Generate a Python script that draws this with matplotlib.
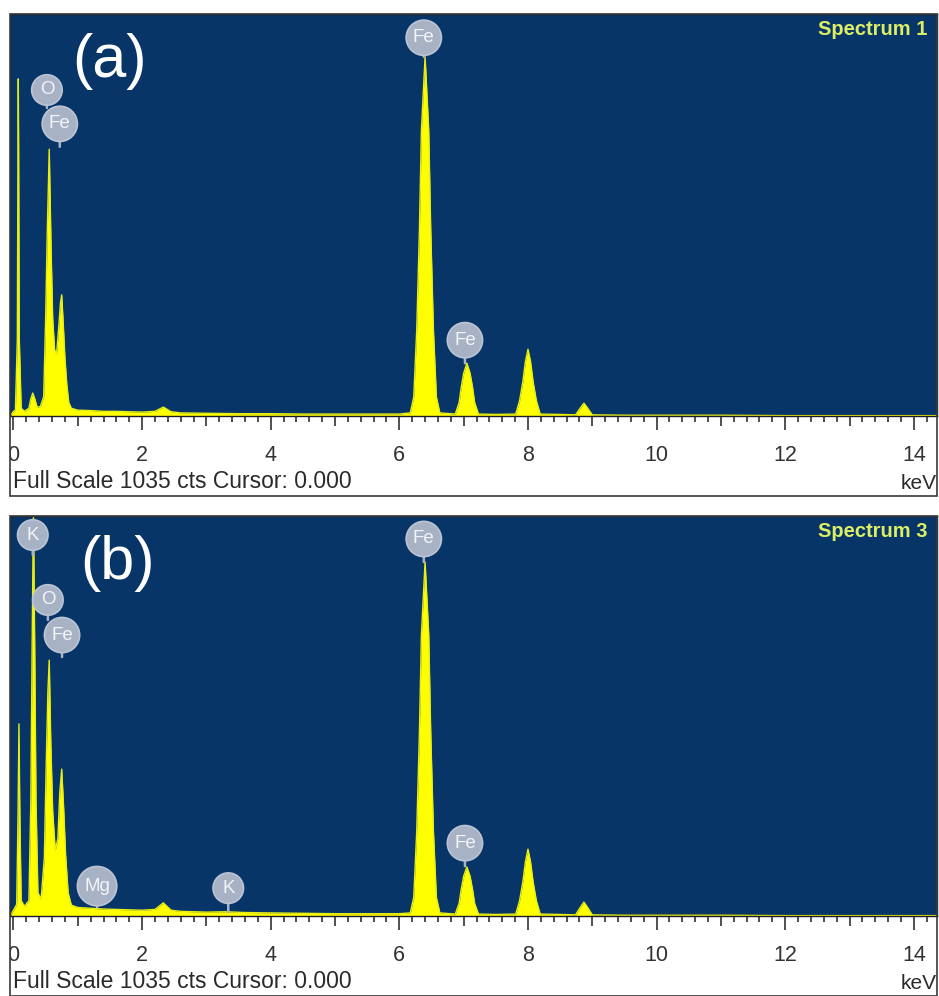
import numpy as np
import matplotlib
matplotlib.use('Agg')
import matplotlib.pyplot as plt
from matplotlib.patches import Rectangle

plt.rcParams['font.family'] = ['Liberation Sans', 'DejaVu Sans']

# spectrum (a): energy in keV, counts
energy_a = [-0.05, 0.0, 0.03, 0.06, 0.07, 0.075, 0.08, 0.09, 0.12, 0.17,
            0.24, 0.27, 0.30, 0.33, 0.37, 0.42, 0.47, 0.50, 0.525, 0.556,
            0.585, 0.61, 0.64, 0.67, 0.70, 0.73, 0.75, 0.77, 0.80, 0.83,
            0.86, 0.90, 1.0, 1.2, 1.4, 1.6, 1.8, 2.0, 2.2, 2.33,
            2.45, 2.6, 3.0, 3.5, 4.0, 4.5, 5.0, 5.5, 6.0, 6.17,
            6.224, 6.27, 6.312, 6.343, 6.40, 6.457, 6.488, 6.53, 6.576, 6.63,
            6.87, 6.93, 6.96, 7.0, 7.05, 7.10, 7.14, 7.17, 7.23, 7.5,
            7.81, 7.87, 7.92, 7.96, 8.0, 8.04, 8.08, 8.13, 8.19, 8.5,
            8.74, 8.82, 8.87, 8.92, 9.0, 9.5, 10.0, 11.0, 12.0, 13.0, 14.4]
counts_a = [0, 12, 15, 200, 700, 868, 700, 200, 20, 12,
            20, 45, 59, 45, 22, 25, 50, 250, 470, 687,
            430, 250, 170, 160, 220, 290, 312, 250, 150, 80,
            35, 20, 15, 14, 12, 12, 11, 10, 12, 23,
            11, 8, 7, 6, 6, 5, 5, 5, 5, 8,
            49, 221, 479, 736, 925, 736, 479, 221, 49, 8,
            5, 35, 72, 110, 136, 110, 72, 35, 5, 4,
            5, 40, 88, 140, 172, 140, 88, 40, 5, 4,
            3, 22, 33, 22, 3, 2, 2, 2, 1, 1, 1]

# spectrum (b)
energy_b = [-0.05, 0.0, 0.05, 0.07, 0.085, 0.10, 0.12, 0.17, 0.24, 0.27,
            0.29, 0.31, 0.33, 0.35, 0.38, 0.43, 0.48, 0.51, 0.535, 0.556,
            0.58, 0.61, 0.65, 0.69, 0.72, 0.75, 0.78, 0.81, 0.85, 0.90,
            1.0, 1.2, 1.4, 1.6, 1.8, 2.0, 2.2, 2.33, 2.45, 2.6,
            3.0, 3.3, 3.6, 4.0, 4.5, 5.0, 5.5, 6.0, 6.17, 6.224,
            6.27, 6.312, 6.343, 6.40, 6.457, 6.488, 6.53, 6.576, 6.63, 6.87,
            6.93, 6.96, 7.0, 7.05, 7.10, 7.14, 7.17, 7.23, 7.5, 7.81,
            7.87, 7.92, 7.96, 8.0, 8.04, 8.08, 8.13, 8.19, 8.5, 8.74,
            8.82, 8.87, 8.92, 9.0, 9.5, 10.0, 11.0, 12.0, 13.0, 14.4]
counts_b = [0, 15, 30, 250, 497, 250, 40, 25, 40, 300,
            700, 1050, 700, 300, 60, 44, 150, 400, 580, 662,
            450, 270, 170, 200, 320, 380, 280, 160, 60, 28,
            22, 20, 18, 17, 16, 15, 17, 34, 15, 12,
            10, 11, 9, 8, 7, 6, 6, 6, 8, 48,
            219, 474, 728, 916, 728, 474, 219, 48, 8, 5,
            33, 67, 103, 127, 103, 67, 33, 5, 4, 5,
            40, 88, 140, 173, 140, 88, 40, 5, 4, 3,
            24, 36, 24, 3, 2, 2, 2, 1, 1, 1]

# element markers: name, energy (keV), counts where the stem ends
names_a = ['O', 'Fe', 'Fe', 'Fe']
mark_kev_a = [0.52, 0.72, 6.38, 7.02]
mark_cts_a = [793, 693, 925, 136]

names_b = ['K', 'O', 'Fe', 'Mg', 'K', 'Fe', 'Fe']
mark_kev_b = [0.30, 0.535, 0.755, 1.30, 3.34, 6.38, 7.02]
mark_cts_b = [934, 766, 670, 23, 10, 916, 129]

W, H = 939, 996
BLUE = '#073567'


def px_box(l, t, r, b):
    return [l / W, 1 - b / H, (r - l) / W, (b - t) / H]


fig = plt.figure(figsize=(W / 100, H / 100), dpi=100)

panels = [
    (14, 416, energy_a, counts_a, names_a, mark_kev_a, mark_cts_a,
     [18, 23, 19, 23], 'Spectrum 1', '(a)', 110),
    (516, 916, energy_b, counts_b, names_b, mark_kev_b, mark_cts_b,
     [20, 20, 22, 21, 24, 23, 23], 'Spectrum 3', '(b)', 117),
]

for top, bot, e, c, names, mk, mc, rise, spec, tag, tag_x in panels:
    ax = fig.add_axes(px_box(10, top, 937, bot))
    ax.set_facecolor(BLUE)
    ax.fill_between(e, c, 0, color='#ffff00', lw=0, zorder=2)
    ax.plot(e, c, color='#e8ee14', lw=1.0, zorder=2)
    ax.set_xlim(-0.054, 14.36)
    ax.set_ylim(0, 1035)
    ax.set_yticks([])
    ax.set_xticks(np.arange(0, 15, 1))
    ax.set_xticklabels([str(i) if i % 2 == 0 else '' for i in range(15)])
    ax.set_xticks(np.arange(0, 14.4, 0.2), minor=True)
    ax.tick_params(axis='x', which='major', length=10, width=1.1, color='#222222',
                   labelsize=15.5, labelcolor='#333333', pad=11)
    ax.tick_params(axis='x', which='minor', length=4, width=1.1, color='#222222')
    for i, t in enumerate(ax.xaxis.get_major_ticks()):
        if i % 2:
            t.tick1line.set_markersize(7)
    for s in ax.spines.values():
        s.set_color('#1c1c28')
        s.set_linewidth(1.0)

    for n, k, cc, r in zip(names, mk, mc, rise):
        ax.annotate(n, xy=(k, cc), xytext=(0, r * 0.72), textcoords='offset points',
                    ha='center', va='center', fontsize=13.5, color='#f2f4f8',
                    bbox=dict(boxstyle='circle,pad=0.36', fc='#a8b2c5', ec='#bcc4d4', lw=1.2),
                    arrowprops=dict(arrowstyle='-', color='#aab4c6', lw=1.8,
                                    shrinkA=0, shrinkB=0),
                    annotation_clip=False, zorder=5)

    fig.text(927 / W, 1 - (top + 6) / H, spec, ha='right', va='top', fontsize=14.5,
             weight='bold', color='#dcee66')
    fig.text(tag_x / W, 1 - (top + 47) / H, tag, ha='center', va='center',
             fontsize=44, color='white')
    fig.text(13 / W, 1 - (bot + 72) / H, 'Full Scale 1035 cts Cursor: 0.000',
             ha='left', va='baseline', fontsize=16.5, color='#2a2a2a')
    fig.text(937 / W, 1 - (bot + 73) / H, 'keV', ha='right', va='baseline',
             fontsize=15, color='#2a2a2a')
    # outer frame of the panel including footer
    fig.patches.append(Rectangle((10 / W, 1 - (bot + 80) / H), 927 / W, (bot + 80 - top) / H,
                                 transform=fig.transFigure, fill=False,
                                 ec='#3a3a3a', lw=1.2, zorder=11))

# hide the part of the "0" labels sticking out left of the frames
fig.patches.append(Rectangle((0, 0), 9.5 / W, 1, transform=fig.transFigure,
                             fc='white', ec='none', zorder=10))

fig.savefig('out.png', dpi=100, facecolor='white')
